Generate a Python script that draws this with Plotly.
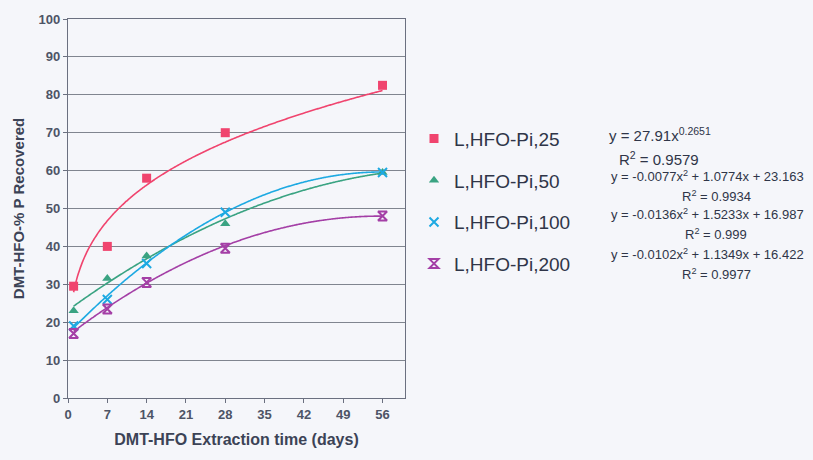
import numpy as np
import plotly.graph_objects as go

# Extraction times (days) and % P recovered for each loading
days = [1, 7, 14, 28, 56]
pi_25 = [29.5, 40.0, 58.0, 70.0, 82.5]
pi_50 = [23.0, 31.5, 37.5, 46.0, 59.5]
pi_100 = [19.0, 26.0, 35.5, 49.0, 59.5]
pi_200 = [17.0, 23.5, 30.5, 39.5, 48.0]

series_names = ["L,HFO-Pi,25", "L,HFO-Pi,50", "L,HFO-Pi,100", "L,HFO-Pi,200"]

# Trendline coefficients as printed beside the legend
power_a, power_b = 27.91, 0.2651
poly_50 = [-0.0077, 1.0774, 23.163]
poly_100 = [-0.0136, 1.5233, 16.987]
poly_200 = [-0.0102, 1.1349, 16.422]
r2_values = ["0.9579", "0.9934", "0.999", "0.9977"]

x_ticks = [0, 7, 14, 21, 28, 35, 42, 49, 56]

colors = ["#F0446E", "#3AA382", "#1DA9E2", "#A43FA6"]
symbols = ["square", "triangle-up", "x-thin-open", "hourglass-open"]

W, H = 813, 460
L, R, T, B = 68, 408, 14, 62


def px_x(px):
    return (px - L) / (W - L - R)


def px_y(py):
    return 1 - (py - T) / (H - T - B)


xs = np.linspace(days[0], days[-1], 200)
trends = [
    power_a * xs ** power_b,
    np.polyval(poly_50, xs),
    np.polyval(poly_100, xs),
    np.polyval(poly_200, xs),
]
values = [pi_25, pi_50, pi_100, pi_200]

fig = go.Figure()
for i, name in enumerate(series_names):
    fig.add_trace(go.Scatter(
        x=xs, y=trends[i], mode="lines",
        line=dict(color=colors[i], width=1.6, shape="spline"),
        showlegend=False, hoverinfo="skip",
    ))
for i, (name, vals) in enumerate(zip(series_names, values)):
    open_sym = symbols[i].endswith("open")
    fig.add_trace(go.Scatter(
        x=days, y=vals, mode="markers", name=name, legendgroup=name,
        marker=dict(
            symbol=symbols[i], size=9,
            color=colors[i],
            line=dict(color=colors[i], width=2 if open_sym else 0),
        ),
    ))

grid = "#80858F"
tick_font = dict(family="Liberation Sans", size=13, color="#4D5466", weight="bold")
fig.update_xaxes(
    range=[0, 60], tickvals=x_ticks, ticks="outside", ticklen=4,
    tickcolor="#6B7080", showgrid=False, showline=True, linecolor="#6B7080",
    linewidth=1.2, mirror=True, zeroline=False,
    tickfont=tick_font,
    title=dict(text="<b>DMT-HFO Extraction time (days)</b>", standoff=13,
               font=dict(family="Liberation Sans", size=16, color="#3C4356")),
)
fig.update_yaxes(
    range=[0, 100], dtick=10, ticks="outside", ticklen=4,
    tickcolor="#6B7080", showgrid=True, gridcolor=grid, gridwidth=1,
    showline=True, linecolor="#6B7080", linewidth=1.2, mirror=True,
    zeroline=False,
    tickfont=tick_font,
    title=dict(text="<b>DMT-HFO-% P Recovered</b>", standoff=10,
               font=dict(family="Liberation Sans", size=15, color="#3C4356")),
)

# Fitted-equation labels to the right of the legend
eq_font = dict(family="Liberation Sans", size=13, color="#2F3548")
eqs = [
    ("y = 27.91x<sup>0.2651</sup>", 607, 131, "left", 15),
    ("y = -0.0077x<sup>2</sup> + 1.0774x + 23.163", 707, 173, "center", 13),
    ("y = -0.0136x<sup>2</sup> + 1.5233x + 16.987", 707, 212, "center", 13),
    ("y = -0.0102x<sup>2</sup> + 1.1349x + 16.422", 707, 252, "center", 13),
]
r2_pos = [(617, 155, "left", 15), (716, 193, "center", 13),
          (716, 232, "center", 13), (716, 272, "center", 13)]
ann = []
for (txt, px, py, anchor, fs), r2, (rx, ry, ranc, rfs) in zip(eqs, r2_values, r2_pos):
    ann.append(dict(text=txt, x=px_x(px), y=px_y(py), xref="paper", yref="paper",
                    xanchor=anchor, yanchor="middle", showarrow=False,
                    font=dict(eq_font, size=fs)))
    ann.append(dict(text=f"R<sup>2</sup> = {r2}", x=px_x(rx), y=px_y(ry),
                    xref="paper", yref="paper", xanchor=ranc, yanchor="middle",
                    showarrow=False, font=dict(eq_font, size=rfs)))

fig.update_layout(
    width=W, height=H,
    margin=dict(l=L, r=R, t=T, b=B),
    paper_bgcolor="#F5F6FA", plot_bgcolor="#F5F6FA",
    showlegend=True,
    legend=dict(x=px_x(414), y=px_y(116), xanchor="left", yanchor="top",
                bgcolor="rgba(0,0,0,0)", tracegroupgap=14,
                font=dict(family="Liberation Sans", size=19, color="#2F3548")),
    annotations=ann,
)

fig.write_html("out.html")
